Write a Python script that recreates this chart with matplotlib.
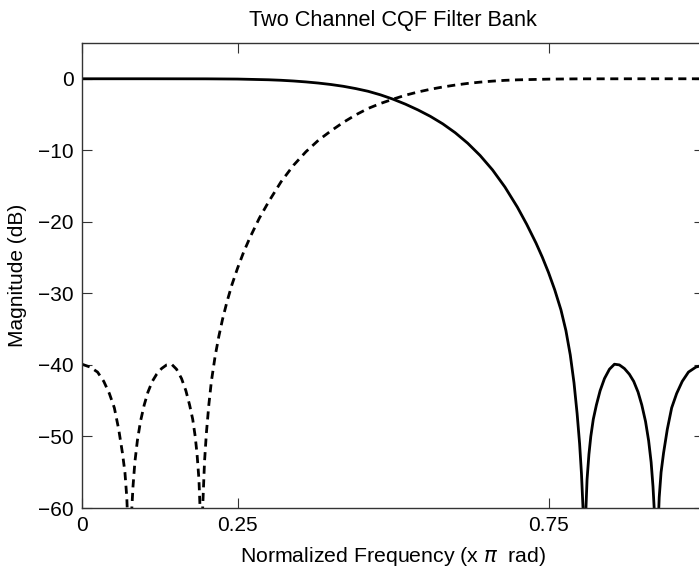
import matplotlib
matplotlib.use('Agg')
import matplotlib.pyplot as plt

plt.rcParams['font.family'] = ['Liberation Sans', 'DejaVu Sans']

# --- datos (frecuencia normalizada, magnitud dB) ---
# canal pasa-bajos (linea continua)
freq_lp = [0.00, 0.10, 0.20, 0.25, 0.30, 0.32, 0.34, 0.36, 0.38, 0.40,
           0.42, 0.44, 0.46, 0.48, 0.50, 0.52, 0.54, 0.56, 0.58, 0.60,
           0.62, 0.64, 0.66, 0.68, 0.70, 0.715, 0.73, 0.74, 0.75, 0.76,
           0.77, 0.778, 0.785, 0.791, 0.796, 0.800, 0.803, 0.806, 0.8075,
           0.808,
           0.810, 0.812, 0.815, 0.818, 0.822, 0.827, 0.833, 0.840, 0.848,
           0.856, 0.864, 0.872, 0.880, 0.887, 0.894, 0.900, 0.906, 0.911,
           0.915, 0.918, 0.9205, 0.923,
           0.9255, 0.928, 0.931, 0.935, 0.941, 0.948, 0.956, 0.965, 0.975,
           0.987, 1.000]
mag_lp = [0.0, 0.0, -0.01, -0.04, -0.14, -0.21, -0.31, -0.44, -0.60, -0.80,
          -1.05, -1.37, -1.75, -2.25, -2.85, -3.55, -4.35, -5.25, -6.3, -7.54,
          -9.0, -10.72, -12.74, -15.14, -17.95, -20.35, -22.98, -24.93, -27.08, -29.5,
          -32.3, -35.2, -38.6, -42.5, -46.8, -51.0, -55.2, -61.0, -66.0,
          -75.0,
          -60.5, -56.0, -52.5, -50.0, -47.6, -45.6, -43.6, -41.9, -40.6,
          -39.9, -40.0, -40.5, -41.3, -42.3, -43.8, -45.6, -47.9, -50.6,
          -53.6, -57.0, -61.0, -75.0,
          -64.0, -58.5, -55.0, -52.3, -49.0, -46.0, -44.0, -42.3, -41.0,
          -40.3, -40.0]

# canal pasa-altos (linea discontinua)
freq_hp = [0.000, 0.013, 0.025, 0.035, 0.044, 0.052, 0.059, 0.065, 0.069,
           0.072, 0.0745, 0.077,
           0.0795, 0.082, 0.085, 0.089, 0.094, 0.100, 0.106, 0.113, 0.120,
           0.128, 0.136, 0.144, 0.152, 0.160, 0.167, 0.173, 0.178, 0.182,
           0.185, 0.188, 0.190, 0.192,
           0.194, 0.197, 0.200, 0.204, 0.208, 0.214, 0.220, 0.226, 0.233,
           0.241, 0.250, 0.260, 0.270, 0.285, 0.300, 0.320, 0.340, 0.360,
           0.380, 0.400, 0.420, 0.440, 0.460, 0.480, 0.500, 0.520, 0.540,
           0.560, 0.580, 0.600, 0.620, 0.640, 0.660, 0.680, 0.700, 0.750,
           0.800, 0.900, 1.000]
mag_hp = [-39.9, -40.3, -41.0, -42.3, -44.0, -46.0, -49.0, -52.3, -55.0,
          -58.5, -64.0, -75.0,
          -61.0, -57.0, -53.6, -50.6, -47.9, -45.6, -43.8, -42.3, -41.3,
          -40.5, -40.0, -39.9, -40.6, -41.9, -43.6, -45.6, -47.6, -50.0,
          -52.5, -56.0, -60.5, -75.0,
          -60.0, -53.5, -49.5, -45.5, -42.3, -38.8, -36.0, -33.6, -31.2,
          -28.8, -26.5, -24.2, -22.2, -19.5, -17.2, -14.4, -12.1, -10.2,
          -8.6, -7.3, -6.1, -5.05, -4.15, -3.45, -2.85, -2.3, -1.85,
          -1.47, -1.15, -0.88, -0.65, -0.47, -0.33, -0.22, -0.15, -0.05,
          -0.01, 0.0, 0.0]

xticks = [0, 0.25, 0.75, 1]
xtick_labels = ['0', '0.25', '0.75', '']
yticks = [0, -10, -20, -30, -40, -50, -60]

fig = plt.figure(figsize=(6.99, 5.68), dpi=100)
ax = fig.add_axes([82 / 699, 60 / 568, 622 / 699, 465 / 568])

ax.plot(freq_lp, mag_lp, color='black', linewidth=2.0)
ax.plot(freq_hp, mag_hp, color='black', linewidth=2.0, linestyle=(0, (2.9, 2.0)))

ax.set_xlim(0, 1)
ax.set_ylim(-60, 5)
ax.set_xticks(xticks)
ax.set_xticklabels(xtick_labels)
ax.set_yticks(yticks)

ax.tick_params(direction='in', length=7, width=0.8, color='#333333',
               top=True, right=True, labelsize=15, pad=6)
for s in ax.spines.values():
    s.set_linewidth(1.0)
    s.set_color('#333333')

ax.set_title('Two Channel CQF Filter Bank', fontsize=15.7, pad=12)
ax.set_xlabel('Normalized Frequency (x $\\pi$  rad)', fontsize=15.3, labelpad=7)
ax.set_ylabel('Magnitude (dB)', fontsize=15, labelpad=8)

fig.savefig('out.png', dpi=100)
